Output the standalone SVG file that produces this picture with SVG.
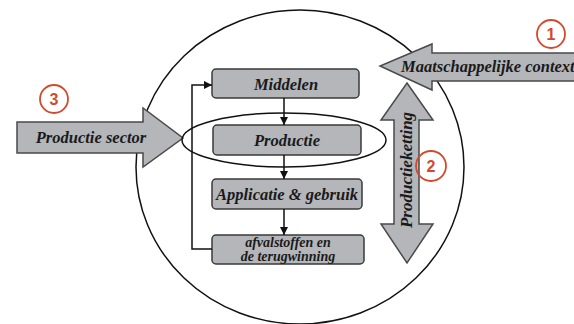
<svg xmlns="http://www.w3.org/2000/svg" width="574" height="324" viewBox="0 0 574 324">
<style>
.box{fill:#b4b6ba;stroke:#3a3a3a;stroke-width:1.5}
.arr{fill:#b4b6ba;stroke:#4a4a4a;stroke-width:1.5;stroke-linejoin:miter}
.t{font-family:"Liberation Serif","Times New Roman","DejaVu Serif",serif;font-weight:bold;font-style:italic;fill:#1a1a1a}
.num{fill:none;stroke:#d24a2e;stroke-width:1.8}
.numt{font-family:"Liberation Sans","DejaVu Sans",sans-serif;font-weight:bold;fill:#d24a2e;font-size:16px}
.ln{fill:none;stroke:#111;stroke-width:1.5}
</style>
<defs>
<marker id="ah" viewBox="0 0 10 10" refX="10" refY="5" markerWidth="8" markerHeight="8" markerUnits="userSpaceOnUse" orient="auto"><path d="M0,0 L10,5 L0,10 z" fill="#111"/></marker>
</defs>
<rect width="574" height="324" fill="#fff"/>
<g id="circle"><ellipse cx="300" cy="167" rx="164" ry="157" fill="none" stroke="#111" stroke-width="1.5"/></g>
<g id="productie-sector">
<path class="arr" d="M17,122 L143,122 L143,108 L183,138 L143,167 L143,153 L17,153 Z"/>
<text class="t" x="91" y="143" font-size="16.5" text-anchor="middle">Productie sector</text>
</g>
<g id="maatschappelijke-context">
<path class="arr" d="M590,53 L432,53 L432,44 L380,66 L432,90 L432,81 L590,81 Z"/>
<text class="t" x="401" y="72" font-size="16.5">Maatschappelijke context</text>
</g>
<g id="productieketting">
<path class="arr" d="M407,83 L433,120 L419,120 L419,224 L433,224 L407,263 L381,224 L394,224 L394,120 L381,120 Z"/>
<text class="t" transform="translate(412,170) rotate(-90)" font-size="17" text-anchor="middle">Productieketting</text>
</g>
<g id="middelen">
<rect class="box" x="212" y="69" width="147" height="29" rx="4"/>
<text class="t" x="286" y="90" font-size="16.5" text-anchor="middle">Middelen</text>
</g>
<g id="productie">
<rect class="box" x="213" y="125" width="148" height="30" rx="4"/>
<text class="t" x="287" y="146" font-size="16.5" text-anchor="middle">Productie</text>
</g>
<g id="applicatie">
<rect class="box" x="212" y="179" width="150" height="30" rx="4"/>
<text class="t" x="287" y="200" font-size="16.5" text-anchor="middle">Applicatie &amp; gebruik</text>
</g>
<g id="afvalstoffen">
<rect class="box" x="212" y="235" width="152" height="29" rx="4"/>
<text class="t" x="288" y="247" font-size="14" text-anchor="middle">afvalstoffen en</text>
<text class="t" x="288" y="261" font-size="14" text-anchor="middle">de terugwinning</text>
</g>
<g id="connectors">
<ellipse class="ln" cx="284" cy="140" rx="102" ry="27"/>
<line class="ln" x1="284" y1="98" x2="284" y2="125" marker-end="url(#ah)"/>
<line class="ln" x1="284" y1="155" x2="284" y2="179" marker-end="url(#ah)"/>
<line class="ln" x1="284" y1="209" x2="284" y2="235" marker-end="url(#ah)"/>
<path class="ln" d="M212,249 L192,249 L192,85 L212,85" marker-end="url(#ah)"/>
</g>
<g id="labels">
<circle class="num" cx="54" cy="99" r="14"/><text class="numt" x="54" y="105" text-anchor="middle">3</text>
<circle class="num" cx="551" cy="34" r="14"/><text class="numt" x="551" y="40" text-anchor="middle">1</text>
<circle class="num" cx="431" cy="166" r="15"/><text class="numt" x="431" y="172" text-anchor="middle">2</text>
</g>
</svg>
